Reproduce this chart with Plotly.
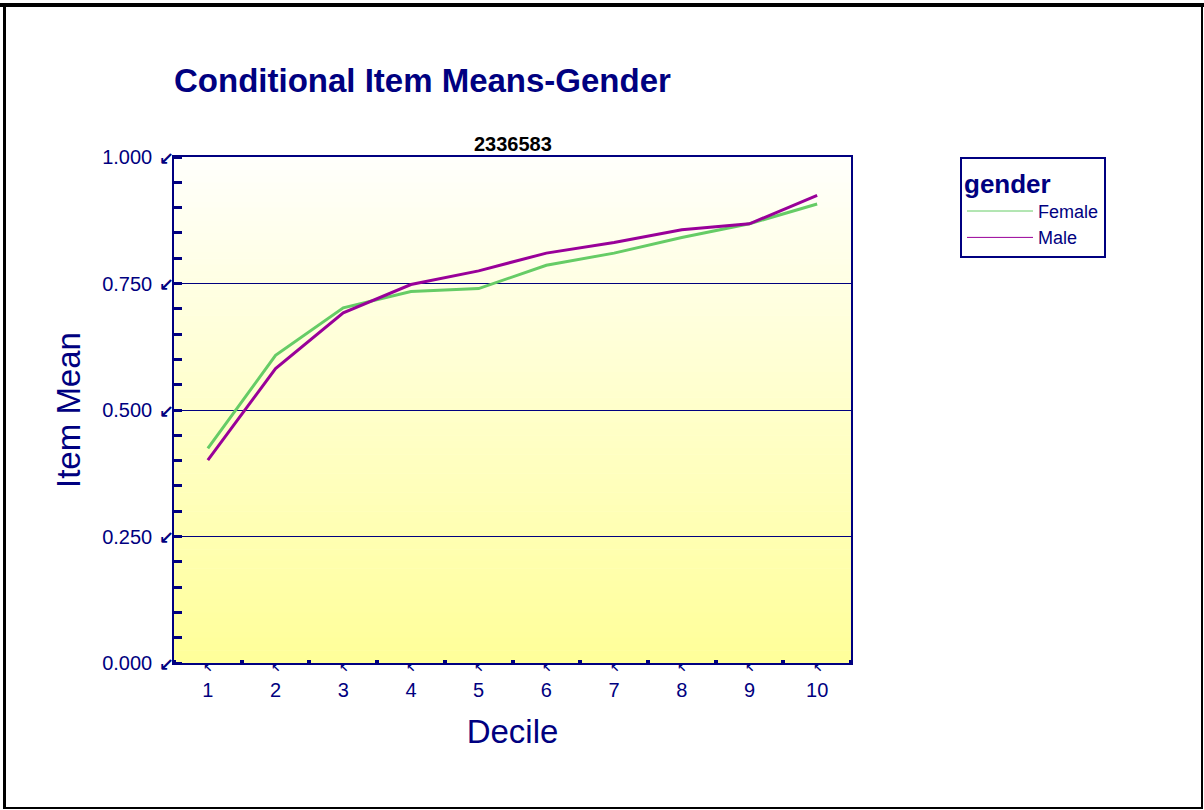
import plotly.graph_objects as go

deciles = [1, 2, 3, 4, 5, 6, 7, 8, 9, 10]
female = [0.424, 0.608, 0.702, 0.734, 0.740, 0.786, 0.810, 0.841, 0.868, 0.907]
male = [0.401, 0.582, 0.692, 0.748, 0.775, 0.810, 0.831, 0.856, 0.868, 0.924]
ytick_vals = [0.0, 0.25, 0.5, 0.75, 1.0]
ytick_text = ["0.000", "0.250", "0.500", "0.750", "1.000"]
xtick_text = [str(d) for d in deciles]

NAVY = "#000080"
GREEN = "#66CC66"
PURPLE = "#990099"
FONT = "Liberation Sans, Arial, sans-serif"
ARROW_FONT = "DejaVu Sans"

W, H = 1204, 810
L, R, T, B = 174, 851, 157, 663


def px(x):
    return (x - L) / (R - L)


def py(y):
    return (B - y) / (B - T)


fig = go.Figure()
fig.add_trace(go.Scatter(x=deciles, y=female, mode="lines", name="Female",
                         line=dict(color=GREEN, width=3), showlegend=False))
fig.add_trace(go.Scatter(x=deciles, y=male, mode="lines", name="Male",
                         line=dict(color=PURPLE, width=3), showlegend=False))
# legend entries with thin lines
fig.add_trace(go.Scatter(x=[None], y=[None], mode="lines", name="Female",
                         line=dict(color=GREEN, width=1)))
fig.add_trace(go.Scatter(x=[None], y=[None], mode="lines", name="Male",
                         line=dict(color=PURPLE, width=1)))

shapes = []
# vertical gradient background in plot area
N = 80
top = (255, 255, 252)
bot = (255, 255, 153)
for i in range(N):
    t = (i + 0.5) / N
    c = tuple(round(top[k] + (bot[k] - top[k]) * t) for k in range(3))
    shapes.append(dict(type="rect", xref="paper", yref="paper", layer="below",
                       x0=0, x1=1, y0=1 - (i + 1) / N - 0.001, y1=1 - i / N,
                       fillcolor="rgb(%d,%d,%d)" % c, line=dict(width=0)))
# page frame
shapes.append(dict(type="line", xref="paper", yref="paper", x0=px(0), x1=px(W),
                   y0=py(5), y1=py(5), line=dict(color="black", width=4)))
shapes.append(dict(type="line", xref="paper", yref="paper", x0=px(4.5), x1=px(4.5),
                   y0=py(3), y1=py(809), line=dict(color="black", width=3)))
shapes.append(dict(type="line", xref="paper", yref="paper", x0=px(1202), x1=px(1202),
                   y0=py(3), y1=py(809), line=dict(color="black", width=2)))
shapes.append(dict(type="line", xref="paper", yref="paper", x0=px(3), x1=px(1203),
                   y0=py(808), y1=py(808), line=dict(color="black", width=2)))

annotations = [
    dict(text="<b>2336583</b>", xref="paper", yref="paper", x=0.5, y=py(144),
         showarrow=False, font=dict(family=FONT, size=20, color="black"),
         xanchor="center", yanchor="middle"),
]
for d in deciles:
    annotations.append(dict(text="<b>↖</b>", xref="x", yref="paper", x=d, y=py(668),
                            showarrow=False, font=dict(family=ARROW_FONT, size=11, color=NAVY),
                            xanchor="center", yanchor="middle"))
for v in ytick_vals:
    annotations.append(dict(text="<b>↙</b>", xref="paper", yref="y", x=px(166), y=v,
                            yshift=-1, showarrow=False,
                            font=dict(family=ARROW_FONT, size=18, color=NAVY),
                            xanchor="center", yanchor="middle"))

fig.update_layout(
    width=W, height=H,
    margin=dict(l=L, r=W - R, t=T, b=H - B, pad=0),
    paper_bgcolor="white", plot_bgcolor="white",
    font=dict(family=FONT, color=NAVY),
    title=dict(text="<b>Conditional Item Means-Gender</b>", xref="container", yref="container",
               x=174 / W, xanchor="left", y=1 - 80 / H, yanchor="middle",
               font=dict(family=FONT, size=33, color=NAVY)),
    shapes=shapes,
    annotations=annotations,
    legend=dict(x=px(960), y=1.0, xanchor="left", yanchor="top",
                bordercolor=NAVY, borderwidth=2, bgcolor="white",
                title=dict(text="<b>gender</b>", font=dict(family=FONT, size=26, color=NAVY)),
                font=dict(family=FONT, size=18, color=NAVY),
                itemwidth=66, tracegroupgap=0),
    xaxis=dict(range=[0.5, 10.5], tickvals=deciles, ticktext=xtick_text,
               showgrid=False, zeroline=False, ticks="",
               showline=True, linecolor=NAVY, linewidth=1.5, mirror=True,
               tickfont=dict(family=FONT, size=20, color=NAVY),
               ticklabelstandoff=8,
               minor=dict(ticks="inside", tick0=0.5, dtick=1, ticklen=3, tickwidth=4,
                          tickcolor=NAVY, showgrid=False),
               title=dict(text="Decile", font=dict(family=FONT, size=33, color=NAVY),
                          standoff=20)),
    yaxis=dict(range=[0, 1], tickvals=ytick_vals, ticktext=ytick_text,
               showgrid=True, gridcolor=NAVY, gridwidth=1, zeroline=False, ticks="",
               showline=True, linecolor=NAVY, linewidth=1.5, mirror=True,
               tickfont=dict(family=FONT, size=20, color=NAVY),
               ticklabelstandoff=16,
               minor=dict(ticks="inside", tick0=0, dtick=0.05, ticklen=8, tickwidth=3,
                          tickcolor=NAVY, showgrid=False),
               title=dict(text="Item Mean", font=dict(family=FONT, size=33, color=NAVY),
                          standoff=12)),
)

fig.write_html("out.html", config={"displayModeBar": False},
               post_script="document.body.style.margin='0px';")
